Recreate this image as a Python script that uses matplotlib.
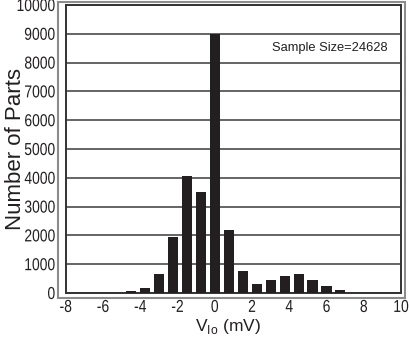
import matplotlib
matplotlib.use("Agg")
import matplotlib.pyplot as plt
from matplotlib.patches import Rectangle
from matplotlib.patheffects import AbstractPathEffect
from matplotlib.transforms import Affine2D

# histogram of input offset voltage
bin_centers = [-4.5, -3.75, -3.0, -2.25, -1.5, -0.75, 0.0, 0.75,
               1.5, 2.25, 3.0, 3.75, 4.5, 5.25, 6.0, 6.75]
counts = [70, 190, 670, 1940, 4050, 3490, 9000, 2190,
          750, 300, 460, 580, 670, 440, 240, 90]
x_ticks = [-8, -6, -4, -2, 0, 2, 4, 6, 8, 10]
y_ticks = list(range(0, 10001, 1000))
sample_size = 24628


class Squeeze(AbstractPathEffect):
    """narrow the glyphs horizontally (no condensed font installed)"""
    def __init__(self, sx, anchor='center'):
        super().__init__()
        self.sx = sx
        self.anchor = anchor

    def draw_path(self, renderer, gc, tpath, affine, rgbFace=None):
        ext = tpath.get_extents()
        cx = ext.x1 if self.anchor == 'right' else (ext.x0 + ext.x1) / 2
        t = Affine2D().translate(-cx, 0).scale(self.sx, 1).translate(cx, 0)
        renderer.draw_path(gc, tpath, t + affine, rgbFace)


plt.rcParams['font.family'] = ['Liberation Sans', 'DejaVu Sans']
plt.rcParams['mathtext.fontset'] = 'custom'
plt.rcParams['mathtext.rm'] = 'Liberation Sans'

fig = plt.figure(figsize=(4.09, 3.4), dpi=100)
ax = fig.add_axes([65.7 / 409, 1 - 293 / 340, (401 - 65.7) / 409, (293 - 5) / 340])

# outer gray frame
fig.patches.append(Rectangle((58 / 409, 1 - 298 / 340), (405 - 58) / 409, (298 - 1.5) / 340,
                             transform=fig.transFigure, fill=False,
                             edgecolor='#8c8c8c', linewidth=1.5))

ax.bar(bin_centers, counts, width=0.54, color='#231f20', zorder=3)

ax.set_xlim(-8, 10)
ax.set_ylim(0, 10000)
ax.set_xticks(x_ticks)
ax.set_yticks(y_ticks)
ax.set_xticklabels([str(v) for v in x_ticks], fontsize=12.5)
ax.set_yticklabels([str(v) for v in y_ticks], fontsize=12.5)
for lbl in ax.get_xticklabels():
    lbl.set_path_effects([Squeeze(0.8, 'center')])
for lbl in ax.get_yticklabels():
    lbl.set_path_effects([Squeeze(0.8, 'right')])
ax.tick_params(axis='both', length=0, colors='#231f20')
ax.tick_params(axis='x', pad=5)
ax.tick_params(axis='y', pad=7.5)

ax.grid(axis='y', color='#3a3a3a', linewidth=1.1, zorder=1)
for s in ax.spines.values():
    s.set_color('#333333')
    s.set_linewidth(1.4)

ax.set_ylabel('Number of Parts', fontsize=16, color='#231f20')
ax.yaxis.set_label_coords(-0.118, 0.5)
ax.set_xlabel(r'V$_{\mathrm{Io}}$ (mV)', fontsize=12.5, color='#231f20')
ax.xaxis.set_label_coords(0.485, -0.083)

ax.text(0.615, 0.851, f'Sample Size={sample_size}', transform=ax.transAxes,
        fontsize=9.3, color='#231f20', va='center', ha='left')

fig.savefig('out.png', dpi=100)
